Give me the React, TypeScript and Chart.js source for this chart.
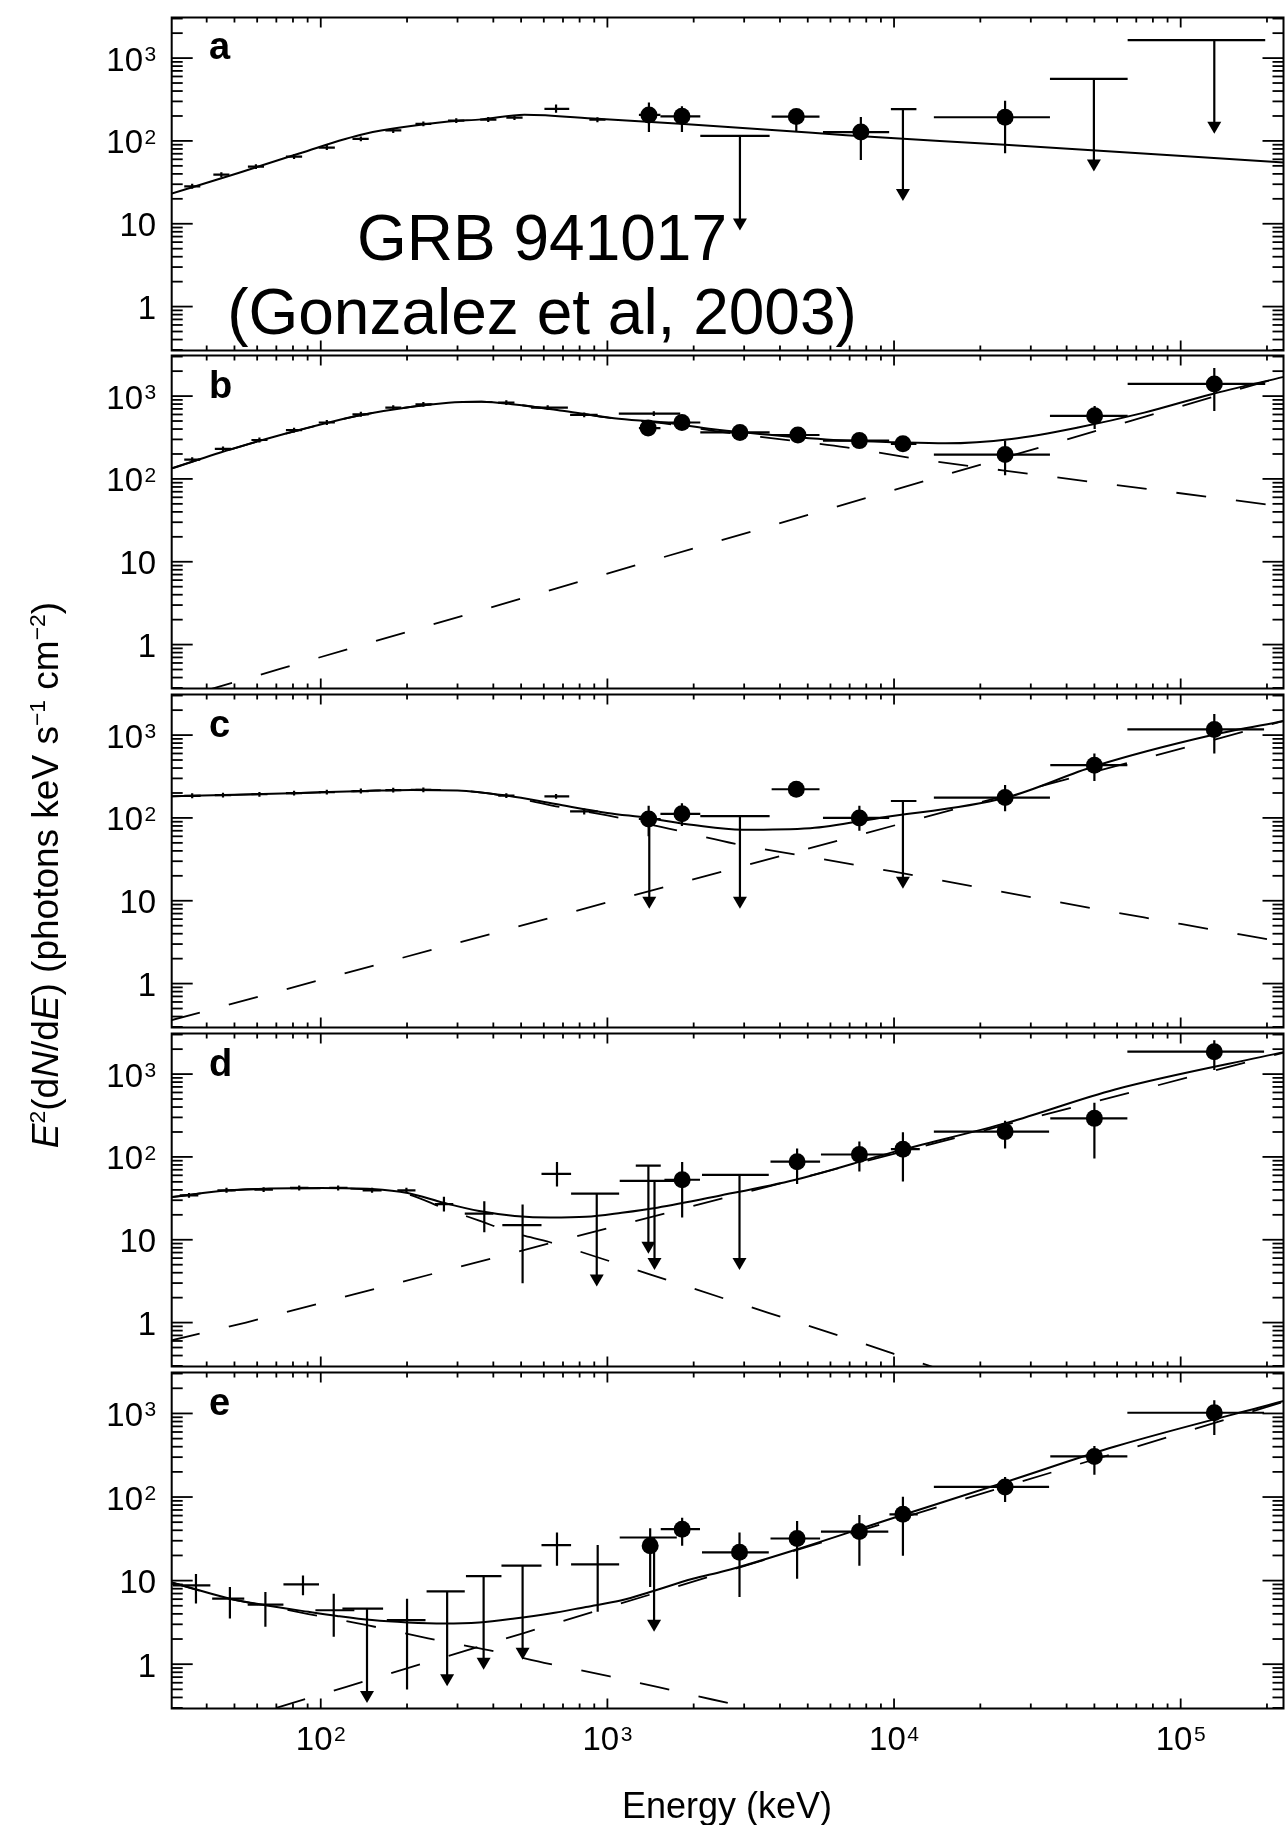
import React, { useEffect, useRef } from "react";
import { Chart, registerables } from "chart.js";

Chart.register(...registerables);

const FONT = "'Liberation Sans', Arial, Helvetica, sans-serif";

// ---------- axes ----------
const xRange = [30.2, 228400];
const yRange = [0.295, 3090];
const xTickValues = [100, 1000, 10000, 100000];
const xTickLabels = [["10", "2"], ["10", "3"], ["10", "4"], ["10", "5"]];
const yTickValues = [1, 10, 100, 1000];
const yTickLabels = [["1", ""], ["10", ""], ["10", "2"], ["10", "3"]];
const panelLetters = ["a", "b", "c", "d", "e"];

// rows: [E, F]  ;  bars: [E, Elo, Ehi, F, Flo, Fhi]  ;  limits: [E, Elo, Ehi, Fupper, Farrow]
// ---------- panel a ----------
const aModel = [[30, 23], [49.3, 39], [84.1, 70.6], [143, 122], [279, 171], [364, 182], [514, 207], [923, 185], [1795, 161], [3981, 134], [6808, 117], [24400, 90], [229000, 55]];
const aCrosses = [
  [35.6, 33.4, 38, 28.3, 26.4, 30.3], [45, 42.2, 48, 39.1, 36.5, 41.8], [59.4, 55.7, 63.4, 49, 45.8, 52.4],
  [80.7, 75.6, 86.1, 64.6, 60.4, 69.1], [105, 98.4, 112, 83.2, 77.8, 89], [138, 129, 147, 106, 99, 113],
  [179, 168, 191, 134, 125, 143], [228, 214, 243, 161, 150, 172], [297, 278, 317, 176, 164, 188],
  [384, 360, 410, 181, 169, 194], [474, 444, 506, 191, 179, 204], [662, 603, 736, 244, 219, 275],
  [923, 865, 985, 180, 168, 193]];
const aCircles = [
  [1396, 1288, 1531, 206, 128, 291], [1820, 1531, 2109, 198, 128, 263], [4560, 3741, 5495, 197, 128, 240],
  [7660, 5650, 9616, 128, 59, 195], [24400, 13770, 34990, 193, 71, 305]];
const aLimits = [[2900, 2109, 3681, 115, 8.3], [10740, 9750, 11970, 242, 18.8], [49800, 34990, 65310, 562, 42.8], [131000, 65310, 197200, 1652, 122]];

// ---------- panel b ----------
const bModel = [[30, 133], [49.3, 231], [84.1, 389], [143, 603], [279, 832], [364, 855], [474, 794], [708, 661], [1054, 541], [1574, 480], [2344, 398], [3990, 333], [6808, 290], [10140, 277], [15140, 269], [25700, 304], [43850, 418], [74650, 631], [127000, 1047], [229000, 1706]];
const bBand = [[30, 133], [49.3, 231], [84.1, 389], [143, 603], [279, 832], [364, 855], [474, 794], [708, 661], [1054, 537], [1574, 469], [2344, 381], [3981, 302], [6808, 240], [12100, 174], [31620, 112], [143200, 57.1], [229000, 46.2]];
const bPowerLaw = [[38.9, 0.273], [72.1, 0.508], [1262, 9.12], [229000, 1738]];
const bCrosses = [
  [35.6, 33.4, 38, 171, 160, 183], [45.6, 42.7, 48.7, 231, 216, 247], [61.1, 57.3, 65.2, 295, 276, 316],
  [80.7, 75.6, 86.1, 389, 364, 416], [105, 98.4, 112, 480, 449, 514], [138, 129, 147, 603, 564, 645],
  [179, 168, 191, 724, 677, 775], [228, 214, 243, 794, 742, 850], [444, 416, 474, 832, 778, 890],
  [619, 542, 728, 724, 677, 775], [830, 741, 925, 593, 554, 635], [1452, 1096, 1795, 615, 575, 658]];
const bCircles = [
  [1387, 1288, 1531, 411, 370, 455], [1820, 1531, 2109, 480, 430, 535], [2900, 2109, 3681, 364, 330, 400],
  [4620, 3741, 5495, 339, 305, 375], [7570, 5650, 9616, 290, 260, 320], [10740, 9750, 11970, 265, 240, 292],
  [24400, 13770, 34990, 197, 111, 290], [50100, 34990, 65310, 577, 400, 759], [131000, 65310, 197200, 1403, 661, 2180]];
const bLimits: number[][] = [];

// ---------- panel c ----------
const cModel = [[30, 182], [50, 190], [85, 200], [143, 212], [207, 218], [300, 215], [450, 185], [660, 147], [1000, 115], [1380, 100], [2000, 82], [2950, 72], [5100, 75], [8900, 100], [24500, 175], [50000, 420], [129000, 1000], [229000, 1480]];
const cBand = [[30, 182], [50, 190], [85, 200], [143, 212], [209, 219], [302, 214], [447, 182], [661, 138], [1000, 107], [1380, 85], [2950, 46.8], [4680, 35.5], [10000, 22.4], [31620, 10.7], [100000, 5.25], [229000, 3.16]];
const cPowerLaw = [[30, 0.36], [1380, 12.9], [4680, 40], [229000, 1480]];
const cCrosses = [
  [35.6, 33.4, 38, 185, 173, 198], [45.6, 42.7, 48.7, 188, 176, 201], [61.1, 57.3, 65.2, 193, 180, 206],
  [80.7, 75.6, 86.1, 199, 186, 213], [105, 98.4, 112, 205, 192, 219], [138, 129, 147, 211, 197, 226],
  [179, 168, 191, 216, 202, 231], [228, 214, 243, 218, 204, 233], [444, 416, 474, 186, 174, 199],
  [662, 603, 736, 182, 170, 195], [830, 741, 925, 120, 110, 130]];
const cCircles = [
  [1393, 1288, 1531, 97, 60, 140], [1820, 1531, 2109, 112, 80, 150], [4560, 3741, 5495, 222, 200, 250],
  [7570, 5650, 9616, 100, 70, 140], [24400, 13770, 34990, 176, 120, 250], [50000, 35080, 65160, 433, 280, 600],
  [131000, 65160, 195400, 1170, 600, 1800]];
const cLimits = [[1400, 1288, 1531, 97, 8], [2900, 2109, 3681, 105, 8], [10740, 9750, 11970, 160, 14]];

// ---------- panel d ----------
const dModel = [[30, 32.7], [48.2, 39.5], [100, 42.2], [151, 41], [201, 36.7], [269, 27.9], [357, 22.2], [475, 19.4], [631, 18.5], [841, 18.9], [1122, 21.2], [1493, 24.4], [2415, 33.6], [4529, 53], [10000, 115], [25060, 261], [59020, 652], [229000, 1841]];
const dBand = [[30, 32.7], [48.2, 39.4], [100, 41.7], [151, 40.3], [201, 35.5], [269, 24], [357, 17], [475, 12], [631, 9.33], [918, 6.19], [1824, 2.85], [2904, 1.69], [4656, 1.0], [7447, 0.589], [11940, 0.34], [15850, 0.245]];
const dPowerLaw = [[29.9, 0.605], [54.8, 1.0], [607, 8.77], [229000, 1820]];
const dCrosses = [
  [34.7, 32.2, 37.4, 34.4, 32.1, 36.8], [46.9, 43.6, 50.5, 39.5, 36.9, 42.3], [63.2, 58.7, 68.1, 40.3, 37.7, 43.1],
  [84.1, 78.1, 90.6, 42.2, 39.4, 45.2], [115, 107, 124, 42.2, 39.4, 45.2], [151, 140, 163, 39.5, 36.9, 42.3],
  [199, 185, 214, 39.5, 36.9, 42.3], [269, 250, 290, 26.9, 22, 33], [372, 318, 400, 20.7, 12.3, 29.2],
  [506, 430, 589, 15, 2.99, 26.7], [667, 589, 747, 62.4, 44, 87]];
const dCircles = [
  [1823, 1581, 2104, 53, 18.5, 87.1], [4590, 3707, 5521, 87.5, 47, 126], [7570, 5559, 9638, 107, 66.5, 154],
  [10740, 9750, 12300, 124, 50.6, 199], [24400, 13770, 34750, 202, 126, 274], [50000, 35080, 65160, 292, 95.7, 452],
  [131000, 65160, 195400, 1862, 1122, 2559]];
const dLimits = [[918, 747, 1099, 36.1, 2.73], [1390, 1256, 1535, 78.3, 6.79], [1460, 1104, 1746, 51.5, 4.31], [2890, 2138, 3656, 60.7, 4.31]];

// ---------- panel e ----------
const eModel = [[30, 9.6], [48.2, 6.08], [64.1, 5.07], [90.6, 4.23], [114, 3.78], [151, 3.37], [201, 3.16], [269, 3.07], [357, 3.16], [475, 3.52], [631, 4.04], [841, 4.84], [1122, 5.81], [1409, 7.29], [1986, 10.5], [2559, 13], [4529, 23.4], [10000, 56.6], [25060, 155], [59020, 402], [229000, 1406]];
const eBand = [[30, 9.55], [48.2, 6.03], [64.1, 5.01], [90.6, 3.98], [145, 2.93], [237, 2.04], [389, 1.46], [627, 1.01], [1021, 0.715], [1660, 0.492], [2323, 0.378], [3548, 0.275]];
const ePowerLaw = [[70, 0.3], [122, 0.533], [511, 2.36], [229000, 1380]];
const eCrosses = [
  [36.7, 30.5, 41.2, 8.75, 5.31, 12], [48.2, 41.8, 54.1, 6.08, 3.52, 8.36], [64.1, 55.6, 74.1, 5.16, 2.81, 7.29],
  [86.7, 74.1, 98.6, 9, 6.67, 11.5], [111, 95.8, 131, 4.42, 2.13, 6.97], [200, 170, 232, 3.37, 0.497, 6.08],
  [667, 589, 747, 26.6, 15.1, 37.6], [925, 747, 1099, 15.6, 4.23, 26.6]];
const eCircles = [
  [1410, 1360, 1460, 26.1, 8.36, 42.4], [1823, 1535, 2104, 41.2, 26.1, 56.6], [2890, 2138, 3656, 21.8, 6.37, 37.6],
  [4590, 3707, 5521, 31.9, 10.5, 51.8], [7570, 5559, 9550, 38.6, 15.1, 61], [10740, 9638, 12100, 62.1, 19.9, 101],
  [24400, 13770, 34750, 132, 87.1, 174], [50000, 35080, 65160, 306, 185, 409], [131000, 65160, 195400, 1019, 553, 1439]];
const eLimits = [[145, 119, 165, 4.62, 0.344], [276, 234, 318, 7.43, 0.543], [370, 321, 427, 11.3, 0.857], [506, 427, 589, 15.1, 1.13], [1455, 1104, 1746, 32.8, 2.44]];

const panels = [
  { model: aModel, band: null, pl: null, crosses: aCrosses, circles: aCircles, limits: aLimits },
  { model: bModel, band: bBand, pl: bPowerLaw, crosses: bCrosses, circles: bCircles, limits: bLimits },
  { model: cModel, band: cBand, pl: cPowerLaw, crosses: cCrosses, circles: cCircles, limits: cLimits },
  { model: dModel, band: dBand, pl: dPowerLaw, crosses: dCrosses, circles: dCircles, limits: dLimits },
  { model: eModel, band: eBand, pl: ePowerLaw, crosses: eCrosses, circles: eCircles, limits: eLimits },
];

// ---------- layout ----------
const PANEL_TOP = 14;
const PANEL_H = 338.9;
const AXIS_LEFT = 171.7;
const CANVAS_W = 1292;
const LABEL_SIZE = 33;
const SUP_SIZE = 21;

function PanelChart({ idx }: { idx: number }) {
  const ref = useRef<HTMLCanvasElement | null>(null);
  const p = panels[idx];
  const last = idx === panels.length - 1;
  const top = PANEL_TOP + idx * PANEL_H;
  const canvasTop = Math.floor(top) - 5;
  const canvasH = last ? 1825 - canvasTop : Math.ceil(PANEL_H) + 11;
  const padTop = top - canvasTop;
  const padBottom = canvasH - (top + PANEL_H - canvasTop);

  useEffect(() => {
    const pts = (arr: number[][]) => arr.map((r) => ({ x: r[0], y: r[1] }));
    const barPts = (arr: number[][]) => arr.map((r) => ({ x: r[0], y: r[3] }));
    const datasets: any[] = [
      { type: "line", data: pts(p.model), borderColor: "#000", borderWidth: 2, pointRadius: 0, fill: false, cubicInterpolationMode: "monotone" },
    ];
    if (p.band) datasets.push({ type: "line", data: pts(p.band), borderColor: "#000", borderWidth: 1.8, borderDash: [30, 30], pointRadius: 0, fill: false, cubicInterpolationMode: "monotone" });
    if (p.pl) datasets.push({ type: "line", data: pts(p.pl), borderColor: "#000", borderWidth: 1.8, borderDash: [30, 30], pointRadius: 0, fill: false });
    datasets.push({ type: "scatter", data: barPts(p.circles), pointRadius: 8.5, pointHoverRadius: 8.5, backgroundColor: "#000", borderWidth: 0 });
    datasets.push({ type: "scatter", data: barPts(p.crosses), pointRadius: 0 });
    datasets.push({ type: "scatter", data: barPts(p.limits), pointRadius: 0 });

    const framePlugin = {
      id: "frameAndBars",
      afterDatasetsDraw(chart: any) {
        const { ctx, chartArea: a } = chart;
        const xs = chart.scales.x;
        const ys = chart.scales.y;
        const X = (v: number) => xs.getPixelForValue(v);
        const Y = (v: number) => ys.getPixelForValue(v);
        const seg = (x1: number, y1: number, x2: number, y2: number) => {
          ctx.beginPath(); ctx.moveTo(x1, y1); ctx.lineTo(x2, y2); ctx.stroke();
        };
        ctx.save();
        ctx.beginPath();
        ctx.rect(a.left, a.top, a.right - a.left, a.bottom - a.top);
        ctx.clip();
        ctx.strokeStyle = "#000";
        ctx.fillStyle = "#000";
        ctx.lineWidth = 2.2;
        for (const r of [...p.crosses, ...p.circles]) {
          seg(X(r[1]), Y(r[3]), X(r[2]), Y(r[3]));
          seg(X(r[0]), Y(r[4]), X(r[0]), Y(r[5]));
        }
        for (const r of p.limits) {
          const px = X(r[0]);
          const py = Y(r[3]);
          const ty = Y(r[4]);
          seg(X(r[1]), py, X(r[2]), py);
          seg(px, py, px, ty - 10);
          ctx.beginPath();
          ctx.moveTo(px - 7, ty - 12);
          ctx.lineTo(px + 7, ty - 12);
          ctx.lineTo(px, ty);
          ctx.closePath();
          ctx.fill();
        }
        ctx.restore();

        // frame + inward ticks
        ctx.save();
        ctx.strokeStyle = "#000";
        ctx.fillStyle = "#000";
        ctx.lineWidth = 2;
        ctx.strokeRect(a.left, a.top, a.right - a.left, a.bottom - a.top);
        ctx.lineWidth = 1.8;
        for (let d = -1; d <= 4; d++) {
          for (let k = 1; k <= 9; k++) {
            const v = k * Math.pow(10, d);
            if (v < yRange[0] || v > yRange[1]) continue;
            const py = Y(v);
            const len = k === 1 ? 21 : 11;
            seg(a.left, py, a.left + len, py);
            seg(a.right, py, a.right - len, py);
          }
        }
        for (let d = 1; d <= 5; d++) {
          for (let k = 1; k <= 9; k++) {
            const v = k * Math.pow(10, d);
            if (v < xRange[0] || v > xRange[1]) continue;
            const px = X(v);
            const len = k === 1 ? 10 : 5;
            seg(px, a.top, px, a.top + len);
            seg(px, a.bottom, px, a.bottom - len);
          }
        }

        // tick labels (power-of-ten with superscript)
        const drawLabel = (base: string, sup: string, ax: number, baseline: number, align: string) => {
          ctx.font = `${LABEL_SIZE}px ${FONT}`;
          const w1 = ctx.measureText(base).width;
          ctx.font = `${SUP_SIZE}px ${FONT}`;
          const gap = 1.5;
          const w2 = sup ? ctx.measureText(sup).width + gap : 0;
          const total = w1 + w2;
          const x0 = align === "right" ? ax - total : ax - total / 2;
          ctx.textAlign = "left";
          ctx.textBaseline = "alphabetic";
          ctx.font = `${LABEL_SIZE}px ${FONT}`;
          ctx.fillText(base, x0, baseline);
          if (sup) {
            ctx.font = `${SUP_SIZE}px ${FONT}`;
            ctx.fillText(sup, x0 + w1 + gap, baseline - 9.5);
          }
        };
        yTickValues.forEach((v, i) => {
          const [b, s] = yTickLabels[i];
          drawLabel(b, s, a.left - 15.5, Y(v) + 12.5, "right");
        });
        if (last) {
          xTickValues.forEach((v, i) => {
            const [b, s] = xTickLabels[i];
            drawLabel(b, s, X(v), a.bottom + 41.5, "center");
          });
        }
        ctx.restore();
      },
    };

    const chart = new Chart(ref.current as HTMLCanvasElement, {
      type: "scatter",
      data: { datasets },
      options: {
        responsive: false,
        animation: false,
        devicePixelRatio: 1,
        events: [],
        layout: { padding: { top: padTop, bottom: padBottom, left: AXIS_LEFT, right: 2 } },
        plugins: { legend: { display: false }, tooltip: { enabled: false }, title: { display: false } },
        scales: {
          x: { type: "logarithmic", min: xRange[0], max: xRange[1], display: false },
          y: { type: "logarithmic", min: yRange[0], max: yRange[1], display: false },
        },
      } as any,
      plugins: [framePlugin],
    });
    return () => chart.destroy();
  }, []);

  return (
    <canvas
      ref={ref}
      width={CANVAS_W}
      height={canvasH}
      style={{ position: "absolute", left: 0, top: canvasTop, width: CANVAS_W, height: canvasH }}
    />
  );
}

const supStyle = { fontSize: "0.62em", verticalAlign: "0.55em", lineHeight: 0 } as const;

export default function App() {
  return (
    <div style={{ position: "absolute", left: 0, top: 0, width: 1288, height: 1825, overflow: "hidden", background: "#fff", fontFamily: FONT, color: "#000" }}>
      {panels.map((_, i) => (
        <PanelChart key={i} idx={i} />
      ))}
      {panelLetters.map((l, i) => (
        <div key={l} style={{ position: "absolute", left: 209, top: PANEL_TOP + i * PANEL_H + 45 - 32, fontSize: 38, lineHeight: "38px", fontWeight: "bold", fontFamily: FONT }}>
          {l}
        </div>
      ))}
      <div style={{ position: "absolute", left: 0, width: 1084, top: 206, textAlign: "center", fontSize: 64, lineHeight: "64px", fontFamily: FONT, whiteSpace: "nowrap" }}>
        GRB 941017
      </div>
      <div style={{ position: "absolute", left: 0, width: 1084, top: 280, textAlign: "center", fontSize: 64, lineHeight: "64px", fontFamily: FONT, whiteSpace: "nowrap" }}>
        (Gonzalez et al, 2003)
      </div>
      <div style={{ position: "absolute", left: 427, width: 600, top: 1788, textAlign: "center", fontSize: 36, lineHeight: "36px", fontFamily: FONT, whiteSpace: "nowrap" }}>
        Energy (keV)
      </div>
      <div style={{ position: "absolute", left: 46 - 400, width: 800, top: 875 - 22, height: 44, lineHeight: "44px", textAlign: "center", fontSize: 37, fontFamily: FONT, transform: "rotate(-90deg)", whiteSpace: "nowrap" }}>
        <i>E</i><span style={supStyle}>2</span>(d<i>N</i>/d<i>E</i>) (photons keV s<span style={supStyle}>−1</span> cm<span style={supStyle}>−2</span>)
      </div>
    </div>
  );
}
